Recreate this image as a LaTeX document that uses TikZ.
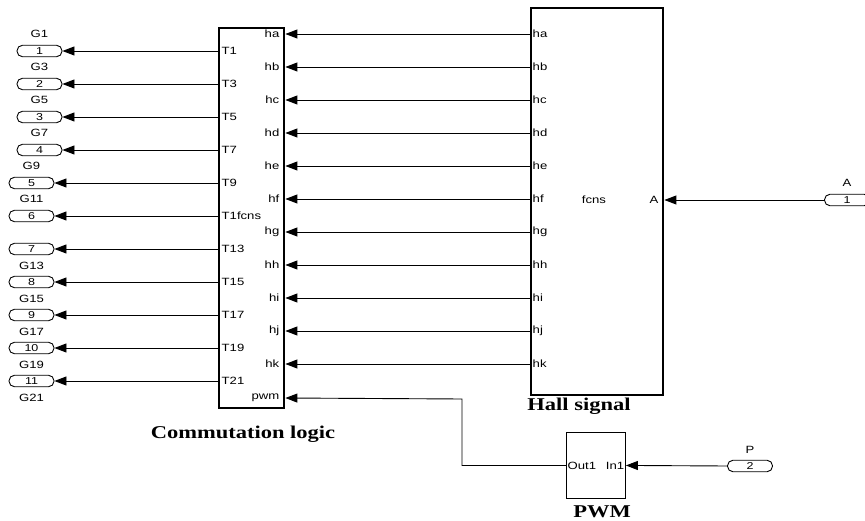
\documentclass[tikz,border=0pt]{standalone}
\usepackage{fontspec}
\setmainfont{Liberation Serif}
\newfontfamily\portfont[FakeStretch=1.25]{Liberation Sans}
\newfontfamily\titlefont[FakeStretch=1.25]{Liberation Serif}
\usetikzlibrary{calc,positioning,arrows.meta}

\tikzset{
  blk/.style={draw, line width=2.4pt, inner sep=0pt, anchor=north west},
  thinblk/.style={draw, line width=0.9pt, inner sep=0pt, anchor=north west},
  oval/.style={draw, line width=0.9pt, rounded corners=5.5pt, minimum width=45pt,
    minimum height=11.5pt, inner sep=0pt, font=\portfont\fontsize{10}{10}\selectfont},
  lbl/.style={font=\portfont\fontsize{10.5}{12}\selectfont, inner sep=1.5pt},
  ttl/.style={font=\titlefont\bfseries\fontsize{18}{20}\selectfont, inner sep=0pt},
  wire/.style={line width=0.9pt, -{Triangle[length=12pt,width=9pt]}},
}

\begin{document}
\begin{tikzpicture}[x=1pt,y=-1pt]
  \useasboundingbox (0,0) rectangle (865,521);

  % blocks
  \node[blk, minimum width=65pt, minimum height=380pt] (comm) at (218,27) {};
  \node[blk, minimum width=132pt, minimum height=387pt] (hall) at (530,7) {};
  \node[thinblk, minimum width=59pt, minimum height=66pt] (pwm) at (566,432) {};

  \node[ttl] (commttl) at (243,434) {Commutation logic};
  \node[ttl] (hallttl) at (579,406) {Hall signal};
  \node[ttl] (pwmttl) at (602,512) {PWM};

  % hall outputs -> commutation inputs
  \foreach \h [count=\i] in {ha,hb,hc,hd,he,hf,hg,hh,hi,hj,hk} {
    \pgfmathsetmacro\yy{34+33*(\i-1)}
    \node[lbl, anchor=east] (ci\i) at (281,\yy) {\h};
    \node[lbl, anchor=west] (ho\i) at (531,\yy) {\h};
    \draw[wire] (hall.west |- ho\i) -- (comm.east |- ci\i);
  }
  \node[lbl, anchor=east] (cipwm) at (281,398) {pwm};

  % commutation outputs -> gate ports
  \foreach \t/\g/\n [count=\i] in {T1/G1/1,T3/G3/2,T5/G5/3,T7/G7/4,T9/G9/5,T1fcns/G11/6,
      T13/G13/7,T15/G15/8,T17/G17/9,T19/G19/10,T21/G21/11} {
    \pgfmathsetmacro\yy{51+33*(\i-1)}
    \pgfmathsetmacro\xx{ifthenelse(\i<5,39.5,31.5)}
    \pgfmathsetmacro\ly{ifthenelse(\i<7,\yy-17,\yy+17)}
    \node[lbl, anchor=west] (to\i) at (220,\yy) {\t};
    \node[oval] (g\i) at (\xx,\yy) {\n};
    \node[lbl] (gl\i) at (\xx,\ly) {\g};
    \draw[wire] (comm.west |- to\i) -- (g\i.east);
  }

  % hall signal inside
  \node[lbl] (fcns) at (594,200) {fcns};
  \node[lbl, anchor=east] (hallA) at (660,200) {A};

  % input A
  \node[oval] (pa) at (847,200) {1};
  \node[lbl] (palbl) at (847,183) {A};
  \draw[wire] (pa.west) -- (hall.east |- pa);

  % PWM
  \node[lbl, anchor=west] (pwmout) at (pwm.west) {Out1};
  \node[lbl, anchor=east] (pwmin) at (pwm.east) {In1};
  \node[oval] (pp) at (750,466) {2};
  \node[lbl] (pplbl) at (750,450) {P};
  \draw[wire] (pp.west) -- (pwm.east);
  \coordinate (bend) at (462,399);
  \draw[wire] (pwm.west) -| (bend) -- (comm.east |- cipwm);
\end{tikzpicture}
\end{document}
